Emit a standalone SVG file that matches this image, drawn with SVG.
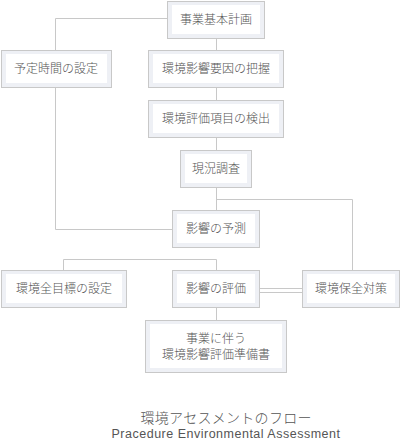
<svg xmlns="http://www.w3.org/2000/svg" width="401" height="442" viewBox="0 0 401 442">
<style>
.o{fill:#eef0f5;stroke:#c8c8c8;stroke-width:1}
.i{fill:#ffffff}
.t{font-family:"Noto Sans CJK JP","Liberation Sans",sans-serif;font-size:12px;font-weight:300;fill:#555;text-anchor:middle}
.c{fill:none;stroke:#c8c8c8;stroke-width:1}
</style>
<rect width="401" height="442" fill="#fff"/>
<g id="connectors">
<path class="c" d="M167.5 18.5H55.5V50M55.5 88V229.5H172"/>
<path class="c" d="M216.5 38V50M216.5 88V100M216.5 138V150M216.5 188V210"/>
<path class="c" d="M216.5 199.5H352.5V270"/>
<path class="c" d="M63.5 270V259.5H216.5V270"/>
<path class="c" d="M260 288.5H302M260 292.5H302"/>
<path class="c" d="M216.5 308V320"/>
</g>
<g id="n1"><rect class="o" x="167.5" y="1.5" width="97" height="37"/><rect class="i" x="172" y="5" width="88" height="29"/><text class="t" x="216" y="24">事業基本計画</text></g>
<g id="n2"><rect class="o" x="1.5" y="50.5" width="110" height="37"/><rect class="i" x="6" y="54" width="101" height="29"/><text class="t" x="56" y="73">予定時間の設定</text></g>
<g id="n3"><rect class="o" x="148.5" y="50.5" width="135" height="37"/><rect class="i" x="153" y="54" width="126" height="29"/><text class="t" x="216" y="73">環境影響要因の把握</text></g>
<g id="n4"><rect class="o" x="148.5" y="100.5" width="135" height="37"/><rect class="i" x="153" y="104" width="126" height="29"/><text class="t" x="216" y="123">環境評価項目の検出</text></g>
<g id="n5"><rect class="o" x="180.5" y="150.5" width="71" height="37"/><rect class="i" x="185" y="154" width="62" height="29"/><text class="t" x="216" y="173">現況調査</text></g>
<g id="n6"><rect class="o" x="172.5" y="210.5" width="87" height="37"/><rect class="i" x="177" y="214" width="78" height="29"/><text class="t" x="216" y="233">影響の予測</text></g>
<g id="n7"><rect class="o" x="1.5" y="270.5" width="125" height="37"/><rect class="i" x="6" y="274" width="116" height="29"/><text class="t" x="64" y="293">環境全目標の設定</text></g>
<g id="n8"><rect class="o" x="172.5" y="270.5" width="87" height="37"/><rect class="i" x="177" y="274" width="78" height="29"/><text class="t" x="216" y="293">影響の評価</text></g>
<g id="n9"><rect class="o" x="302.5" y="270.5" width="97" height="37"/><rect class="i" x="307" y="274" width="88" height="29"/><text class="t" x="351" y="293">環境保全対策</text></g>
<g id="n10"><rect class="o" x="145.5" y="320.5" width="141" height="52"/><rect class="i" x="150" y="324" width="132" height="44"/><text class="t" x="216" y="343">事業に伴う</text><text class="t" x="216" y="359">環境影響評価準備書</text></g>
<g id="title">
<text x="226" y="423" style="font-family:'Noto Sans CJK JP','Liberation Sans',sans-serif;font-size:14px;font-weight:300;fill:#555;text-anchor:middle" textLength="171">環境アセスメントのフロー</text>
<text x="226" y="438" style="font-family:'Liberation Sans',sans-serif;font-size:12.5px;fill:#555;text-anchor:middle;letter-spacing:0.5px">Pracedure Environmental Assessment</text>
</g>
</svg>
